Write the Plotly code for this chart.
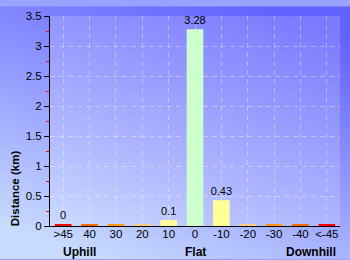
import base64
import plotly.graph_objects as go

categories = [">45", "40", "30", "20", "10", "0", "-10", "-20", "-30", "-40", "<-45"]
distance_km = [0.03, 0.03, 0.03, 0.03, 0.1, 3.28, 0.43, 0.03, 0.03, 0.03, 0.03]
value_labels = ["0", "", "", "", "0.1", "3.28", "0.43", "", "", "", ""]
bar_colors = ["#ff0000", "#ff6a00", "#ff9a1a", "#ffcc88", "#ffff99", "#ccffcc",
              "#ffff99", "#ffcc88", "#ff9a1a", "#ff6a00", "#ff0000"]
group_labels = ["Uphill", "Flat", "Downhill"]
group_pos = [0.6, 5.0, 9.4]

W, H = 350, 260
ml, mr, mt, mb = 50, 10, 10, 34
pw, ph = W - ml - mr, H - mt - mb
FONT = "Liberation Sans, Arial"

svg = f'''<svg xmlns="http://www.w3.org/2000/svg" width="{W}" height="{H}" viewBox="0 0 {W} {H}" preserveAspectRatio="none">
<defs><linearGradient id="g" x1="0.75" y1="0" x2="0.25" y2="1">
<stop offset="0" stop-color="#6262ff"/><stop offset="0.55" stop-color="#9aa2ff"/><stop offset="1" stop-color="#c8dcff"/>
</linearGradient></defs>
<rect x="0" y="0" width="{W}" height="{H}" fill="url(#g)"/>
<rect x="{ml}" y="{mt}" width="{pw}" height="{ph}" fill="#ffffff" fill-opacity="0.16"/>
</svg>'''
src = "data:image/svg+xml;base64," + base64.b64encode(svg.encode()).decode()

fig = go.Figure()
fig.add_trace(go.Bar(
    x=categories, y=distance_km, marker=dict(color=bar_colors, line=dict(width=0)),
    text=value_labels, textposition="outside", cliponaxis=False, constraintext="none",
    textfont=dict(family=FONT, size=11, color="black"),
))

for lbl, pos in zip(group_labels, group_pos):
    fig.add_annotation(x=pos, y=0, xref="x", yref="paper", yshift=-17, yanchor="top",
                       text=f"<b>{lbl}</b>", showarrow=False,
                       font=dict(family=FONT, size=12, color="black"))

fig.add_annotation(x=0, xref="paper", xshift=-35, xanchor="center",
                   y=0.18, yref="paper", yanchor="middle", textangle=-90,
                   text="<b>Distance (km)</b>", showarrow=False,
                   font=dict(family=FONT, size=11.5, color="black"))

fig.add_layout_image(dict(source=src, xref="paper", yref="paper",
                          x=-ml / pw, y=1 + mt / ph, sizex=W / pw, sizey=H / ph,
                          xanchor="left", yanchor="top", sizing="stretch", layer="below"))

fig.update_layout(
    width=W, height=H, margin=dict(l=ml, r=mr, t=mt, b=mb),
    paper_bgcolor="#9aa2ff", plot_bgcolor="rgba(0,0,0,0)",
    showlegend=False, bargap=0.37,
    font=dict(family=FONT, size=11, color="black"),
)
GRID = "rgba(255,255,255,0.35)"
fig.update_xaxes(type="category", showline=True, linecolor="black", linewidth=1,
                 ticks="", showgrid=True, gridcolor=GRID, griddash="5px,4px",
                 gridwidth=1, tickfont=dict(size=11.5), ticklabelstandoff=-3)
fig.update_yaxes(range=[0, 3.5], dtick=0.5, showline=True, linecolor="black", linewidth=1,
                 ticks="outside", ticklen=5, tickcolor="black", tickfont=dict(size=11.5),
                 showgrid=True, gridcolor=GRID, griddash="5px,4px", zeroline=False,
                 ticklabelstandoff=0,
                 minor=dict(dtick=0.25, ticks="outside", ticklen=3, tickcolor="red",
                            tickwidth=1, showgrid=False))

fig.write_html("out.html")
